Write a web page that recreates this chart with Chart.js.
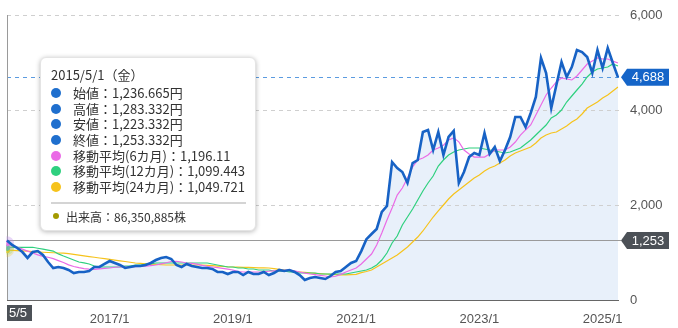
<!DOCTYPE html>
<html lang="ja">
<head>
<meta charset="utf-8">
<script src="https://cdn.jsdelivr.net/npm/chart.js@4.4.1/dist/chart.umd.min.js"></script>
<style>
  html, body { margin: 0; padding: 0; background: #fff; }
  #wrap { position: relative; width: 678px; height: 328px; }
  #tip {
    position: absolute; left: 40px; top: 57px; width: 216px; height: 174px;
    box-sizing: border-box; background: #fff; border: 1px solid #e4e4e4;
    border-radius: 6px; box-shadow: 0 1px 5px rgba(0, 0, 0, 0.28);
    padding: 8px 10px 0 10px; font-family: "Noto Sans CJK JP", sans-serif; color: #333;
  }
  #tip .title { font-size: 13px; line-height: 17px; margin-bottom: 2px; }
  #tip .row { display: flex; align-items: center; font-size: 13px; height: 15.7px; line-height: 15.7px; white-space: nowrap; }
  #tip .dot { width: 10px; height: 10px; border-radius: 50%; margin-right: 12px; flex: none; }
  #tip .sep { margin-top: 7px; height: 2px; width: 195px; background: #d4d4d4; }
  #tip .vol { margin-top: 5px; font-size: 12px; height: 15px; line-height: 15px; }
  #tip .vol .dot { width: 6px; height: 6px; margin-left: 2px; margin-right: 7px; }
</style>
</head>
<body>
<div id="wrap">
  <canvas id="chartPrice" width="678" height="328"></canvas>
  <div id="tip"></div>
</div>
<script>
// monthly closes, 2015/5 .. 2025/4
const closeValues = [
  1253.332, 1160, 1095, 1010, 885, 1010, 1030, 947, 800, 674, 695, 674,
  632, 568, 590, 590, 610, 695, 695, 758, 821, 779, 737, 674,
  695, 716, 716, 737, 779, 842, 884, 905, 863, 737, 695, 758,
  716, 695, 674, 674, 653, 590, 590, 547, 590, 590, 526, 590,
  547, 547, 590, 526, 568, 632, 610, 632, 590, 526, 421, 463,
  484, 463, 442, 505, 590, 610, 695, 779, 821, 1030, 1280, 1390,
  1495, 1853, 1979, 2905, 2779, 2695, 2463, 2884, 2947, 3537, 3579, 3158,
  3537, 3053, 3432, 3558, 2463, 2695, 3011, 3095, 3053, 3516, 3074, 3221,
  2926, 3158, 3432, 3853, 3853, 3642, 3937, 4274, 5095, 4779, 4042, 4526,
  5010, 4695, 4905, 5263, 5221, 5116, 4779, 5263, 4884, 5305, 4990, 4688
];
const ma6Values = [
  1196.11, 1150, 1110, 1070, 1030, 990, 950, 920, 900, 870, 830, 790,
  740, 705, 680, 660, 650, 645, 655, 665, 674, 690, 695, 695,
  695, 700, 705, 715, 725, 737, 760, 785, 810, 815, 800, 779,
  770, 755, 730, 710, 695, 680, 665, 650, 632, 600, 590, 590,
  590, 590, 595, 605, 615, 620, 625, 632, 615, 590, 565, 547,
  535, 520, 505, 484, 500, 540, 590, 632, 674, 758, 863, 968,
  1158, 1410, 1684, 1937, 2210, 2358, 2568, 2800, 2947, 2990, 3053, 3158,
  3200, 3260, 3370, 3410, 3330, 3158, 3074, 3010, 3010, 3010, 3074, 3158,
  3158, 3158, 3220, 3326, 3470, 3580, 3684, 3895, 4105, 4316, 4463, 4590,
  4674, 4653, 4632, 4716, 4842, 4968, 5030, 5095, 5074, 5074, 5030, 4989
];
const ma12Values = [
  1099.443, 1110, 1110, 1110, 1110, 1110, 1090, 1070, 1050, 1030, 970, 925,
  885, 842, 800, 780, 758, 716, 695, 695, 695, 695, 695, 716,
  716, 737, 737, 758, 758, 779, 779, 779, 779, 779, 779, 779,
  779, 779, 779, 779, 758, 737, 716, 695, 695, 674, 674, 653,
  653, 632, 632, 632, 610, 610, 610, 590, 590, 568, 568, 568,
  568, 547, 547, 547, 547, 547, 547, 568, 590, 610, 632, 674,
  737, 842, 989, 1200, 1347, 1580, 1747, 1916, 2105, 2295, 2463, 2610,
  2821, 2947, 3053, 3116, 3158, 3179, 3200, 3200, 3200, 3179, 3158, 3137,
  3116, 3095, 3116, 3158, 3200, 3284, 3368, 3474, 3579, 3684, 3832, 3895,
  4000, 4168, 4295, 4421, 4547, 4695, 4800, 4863, 4884, 4905, 4968, 4926
];
const ma24Values = [
  1049.721, 1045, 1040, 1035, 1028, 1020, 1012, 1005, 1000, 995, 990, 985,
  975, 960, 945, 930, 915, 900, 884, 870, 855, 840, 825, 810,
  795, 779, 770, 762, 755, 748, 742, 737, 737, 737, 737, 737,
  737, 737, 737, 730, 722, 715, 708, 700, 695, 692, 688, 685,
  682, 678, 676, 674, 660, 645, 630, 615, 600, 590, 580, 570,
  562, 555, 547, 540, 533, 526, 530, 535, 540, 575, 600, 632,
  695, 758, 821, 884, 947, 1030, 1116, 1221, 1326, 1453, 1600, 1747,
  1874, 2000, 2126, 2232, 2316, 2400, 2484, 2568, 2632, 2716, 2779, 2821,
  2884, 2947, 3032, 3095, 3137, 3179, 3221, 3305, 3411, 3474, 3516, 3537,
  3600, 3663, 3747, 3811, 3916, 4042, 4105, 4168, 4253, 4316, 4400, 4484
];
const yTickValues = [0, 2000, 4000, 6000];
const xTickLabels = ["2017/1", "2019/1", "2021/1", "2023/1", "2025/1"];

// tooltip contents for the hovered month
const hoverIndex = 0;
const hoverAxisLabel = "5/5";
const tipTitle = "2015/5/1（金）";
const ohlcNames = ["始値", "高値", "安値", "終値"];
const ohlcValues = [1236.665, 1283.332, 1223.332, 1253.332];
const volumeValue = 86350885;

const labels = [];
for (let k = 0; k < closeValues.length; k++) {
  const m = 4 + k; // 2015/5 start
  labels.push(`${2015 + Math.floor(m / 12)}/${(m % 12) + 1}`);
}

const BLUE = "#1762c5";
const PINK = "#ea6be6";
const GREEN = "#2fd07f";
const YELLOW = "#f6c31c";
const fmt = (v) => v.toLocaleString("en-US", { maximumFractionDigits: 3 });

const drawTag = (ctx, xTip, yc, text, color) => {
  const h = 17, w = 48, notch = 6;
  ctx.fillStyle = color;
  ctx.beginPath();
  ctx.moveTo(xTip, yc);
  ctx.lineTo(xTip + notch, yc - h / 2);
  ctx.lineTo(xTip + w, yc - h / 2);
  ctx.lineTo(xTip + w, yc + h / 2);
  ctx.lineTo(xTip + notch, yc + h / 2);
  ctx.closePath();
  ctx.fill();
  ctx.fillStyle = "#fff";
  ctx.font = '13px "Liberation Sans", Arial, sans-serif';
  ctx.textAlign = "center";
  ctx.textBaseline = "middle";
  ctx.fillText(text, xTip + notch + (w - notch) / 2, yc + 0.5);
};

const overlayPlugin = {
  id: "overlay",
  beforeDatasetsDraw(chart) {
    const { ctx, chartArea: a, scales: { x, y } } = chart;
    const lastY = Math.round(y.getPixelForValue(closeValues[closeValues.length - 1])) + 0.5;
    const hx = Math.round(x.getPixelForValue(hoverIndex)) + 0.5;
    const hy = Math.round(y.getPixelForValue(closeValues[hoverIndex])) + 0.5;
    ctx.save();
    ctx.lineWidth = 1;
    // dashed grid, above the area fill
    ctx.strokeStyle = "#cfcfcf";
    ctx.setLineDash([4, 4]);
    yTickValues.forEach((v) => {
      if (v === 0) return;
      const gy = Math.round(y.getPixelForValue(v)) + 0.5;
      ctx.beginPath();
      ctx.moveTo(a.left, gy);
      ctx.lineTo(a.right + 5, gy);
      ctx.stroke();
    });
    // last price line
    ctx.strokeStyle = "#5b9be0";
    ctx.beginPath();
    ctx.moveTo(a.left, lastY);
    ctx.lineTo(a.right + 3, lastY);
    ctx.stroke();
    // crosshair
    ctx.setLineDash([]);
    ctx.strokeStyle = "#9a9a9a";
    ctx.beginPath();
    ctx.moveTo(a.left, hy);
    ctx.lineTo(a.right + 3, hy);
    ctx.moveTo(hx, a.top);
    ctx.lineTo(hx, a.bottom);
    ctx.stroke();
    ctx.restore();
  },
  afterDraw(chart) {
    const { ctx, chartArea: a, scales: { x, y } } = chart;
    const last = closeValues[closeValues.length - 1];
    const hx = x.getPixelForValue(hoverIndex);
    ctx.save();
    drawTag(ctx, a.right + 3, y.getPixelForValue(last), Math.round(last).toLocaleString("en-US"), "#1565c8");
    drawTag(ctx, a.right + 3, y.getPixelForValue(closeValues[hoverIndex]),
      Math.round(closeValues[hoverIndex]).toLocaleString("en-US"), "#4c5157");
    // x crosshair label
    ctx.fillStyle = "#4c5157";
    ctx.fillRect(hx, a.bottom + 5, 25, 16);
    ctx.fillStyle = "#fff";
    ctx.font = '13px "Liberation Sans", Arial, sans-serif';
    ctx.textAlign = "left";
    ctx.textBaseline = "middle";
    ctx.fillText(hoverAxisLabel, hx + 2, a.bottom + 13.5);
    ctx.restore();
  },
};

const lineSet = (label, data, color, width, halo) => ({
  label: label,
  data: data,
  borderColor: color,
  borderWidth: width,
  pointRadius: 0,
  pointHoverRadius: 3,
  pointHoverBackgroundColor: color,
  pointHoverBorderColor: halo,
  pointHoverBorderWidth: 8,
  tension: 0,
  fill: false,
});

const closeSet = lineSet("終値", closeValues, BLUE, 2.6, "rgba(23,98,197,0)");
closeSet.fill = "origin";
closeSet.backgroundColor = "#e8f0fa";

const chartPriceElement = document.querySelector("#chartPrice");
const chartPrice = new Chart(chartPriceElement, {
  type: "line",
  data: {
    labels: labels,
    datasets: [
      closeSet,
      lineSet("移動平均(6カ月)", ma6Values, PINK, 1.2, "rgba(190,140,235,0.35)"),
      lineSet("移動平均(12カ月)", ma12Values, GREEN, 1.2, "rgba(140,215,120,0.3)"),
      lineSet("移動平均(24カ月)", ma24Values, YELLOW, 1.2, "rgba(246,195,28,0.25)"),
    ],
  },
  options: {
    responsive: false,
    animation: false,
    events: [],
    layout: { padding: { left: 7, top: 15, right: 0, bottom: 0 } },
    scales: {
      x: {
        grid: { display: false },
        border: { display: true, color: "#666", width: 1 },
        ticks: {
          autoSkip: false,
          maxRotation: 0,
          padding: 4,
          color: "#555",
          font: { family: '"Liberation Sans", Arial, sans-serif', size: 13 },
          callback: (value, index) => (xTickLabels.includes(labels[index]) ? labels[index] : null),
        },
        afterFit: (scale) => { scale.height = 28; },
      },
      y: {
        position: "right",
        min: 0,
        max: 6000,
        afterBuildTicks: (scale) => { scale.ticks = yTickValues.map((v) => ({ value: v })); },
        border: { display: false },
        grid: { color: "rgba(0,0,0,0)", tickColor: "rgba(0,0,0,0)", tickLength: 5 },
        ticks: {
          padding: 7,
          color: "#555",
          font: { family: '"Liberation Sans", Arial, sans-serif', size: 13 },
          callback: (v) => v.toLocaleString("en-US"),
        },
        afterFit: (scale) => { scale.width = 60; },
      },
    },
    plugins: {
      legend: { display: false },
      tooltip: { enabled: false },
      filler: { drawTime: "beforeDatasetsDraw" },
    },
  },
  plugins: [overlayPlugin],
});

chartPrice.setActiveElements([
  { datasetIndex: 1, index: hoverIndex },
  { datasetIndex: 2, index: hoverIndex },
  { datasetIndex: 3, index: hoverIndex },
]);
chartPrice.update();

// tooltip box
const tipElement = document.querySelector("#tip");
const maNames = ["移動平均(6カ月)", "移動平均(12カ月)", "移動平均(24カ月)"];
const maSeries = [ma6Values, ma12Values, ma24Values];
const maColors = [PINK, GREEN, YELLOW];
let html = `<div class="title">${tipTitle}</div>`;
ohlcNames.forEach((name, k) => {
  html += `<div class="row"><span class="dot" style="background:#1f6fce"></span>${name}：${fmt(ohlcValues[k])}円</div>`;
});
maNames.forEach((name, k) => {
  html += `<div class="row"><span class="dot" style="background:${maColors[k]}"></span>${name}：${fmt(maSeries[k][hoverIndex])}</div>`;
});
html += `<div class="sep"></div>`;
html += `<div class="row vol"><span class="dot" style="background:#a39a00"></span>出来高：${volumeValue.toLocaleString("en-US")}株</div>`;
tipElement.innerHTML = html;
</script>
</body>
</html>
